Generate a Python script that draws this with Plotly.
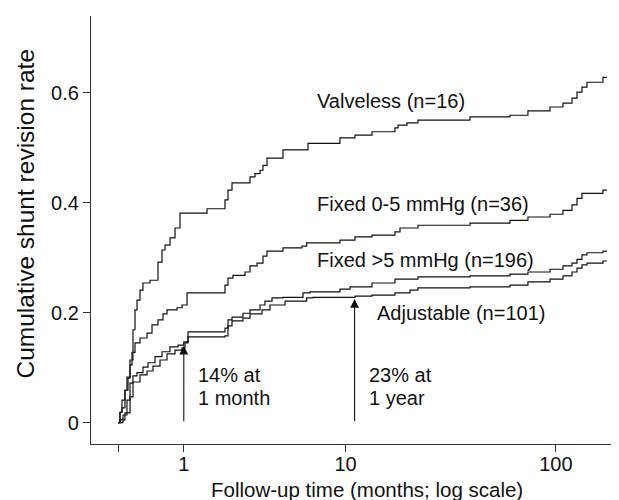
import numpy as np
import plotly.graph_objects as go

# ---- data (months of follow-up, cumulative revision rate) ----
months_valveless = [0, 0.021, 0.043, 0.076, 0.099, 0.135, 0.171, 0.196, 0.222, 0.261, 0.301, 0.401,
                    0.524, 0.59, 0.641, 0.73, 0.824, 0.922, 1.555, 2.088, 2.187, 2.325, 3.019, 3.236,
                    3.466, 3.609, 3.807, 4.691, 6.406, 9.37, 11.15, 13.54, 17.52, 18.12, 20.02, 22.6,
                    39.83, 61.23, 74.2, 93.9, 107.8, 118.6, 125.1, 131.9, 139.1, 164.8, 172]
rate_valveless = [0, 0.019, 0.041, 0.059, 0.083, 0.114, 0.169, 0.205, 0.223, 0.241, 0.254, 0.259,
                  0.292, 0.314, 0.323, 0.336, 0.354, 0.381, 0.389, 0.405, 0.423, 0.436, 0.447, 0.453,
                  0.459, 0.468, 0.481, 0.496, 0.508, 0.518, 0.523, 0.529, 0.536, 0.541, 0.545, 0.55,
                  0.556, 0.559, 0.567, 0.574, 0.581, 0.59, 0.601, 0.61, 0.619, 0.628, 0.628]

months_fixed05 = [0, 0.021, 0.043, 0.076, 0.111, 0.135, 0.159, 0.196, 0.261, 0.358, 0.431, 0.524,
                  0.607, 0.676, 0.862, 0.963, 1.07, 2.088, 2.187, 2.358, 2.813, 3.019, 3.327, 3.609,
                  3.807, 4.691, 5.952, 6.3, 9.37, 11.15, 13.54, 17.52, 18.53, 22.6, 39.83, 61.23,
                  74.2, 93.9, 107.8, 118.6, 125.1, 131.9, 164.8, 172]
rate_fixed05 = [0, 0.019, 0.027, 0.059, 0.081, 0.105, 0.128, 0.145, 0.154, 0.163, 0.178, 0.187,
                0.198, 0.205, 0.209, 0.214, 0.236, 0.25, 0.263, 0.268, 0.274, 0.285, 0.29, 0.303,
                0.312, 0.318, 0.321, 0.327, 0.332, 0.338, 0.341, 0.347, 0.354, 0.359, 0.363, 0.368,
                0.374, 0.379, 0.386, 0.396, 0.408, 0.417, 0.423, 0.423]

months_fixed5 = [0, 0.054, 0.099, 0.135, 0.171, 0.222, 0.301, 0.372, 0.477, 0.59, 0.73, 0.882,
                 1.0, 1.091, 2.088, 2.187, 2.325, 2.733, 3.019, 3.466, 3.707, 4.07, 4.691, 6.025,
                 6.563, 9.37, 10.53, 13.54, 17.52, 22.6, 39.83, 61.23, 74.2, 93.9, 107.8, 118.6,
                 125.1, 131.9, 139.1, 164.8, 172]
rate_fixed5 = [0, 0.014, 0.041, 0.072, 0.085, 0.091, 0.101, 0.109, 0.12, 0.129, 0.138, 0.141,
               0.147, 0.165, 0.172, 0.187, 0.192, 0.199, 0.205, 0.214, 0.221, 0.227, 0.228, 0.236,
               0.238, 0.243, 0.247, 0.254, 0.261, 0.265, 0.267, 0.27, 0.274, 0.279, 0.285, 0.29,
               0.297, 0.305, 0.309, 0.312, 0.312]

months_adjustable = [0, 0.021, 0.076, 0.135, 0.171, 0.261, 0.358, 0.446, 0.557, 0.676, 0.824, 0.963,
                     1.026, 1.091, 2.088, 2.187, 2.325, 2.733, 3.019, 3.56, 3.962, 4.812, 6.3, 6.8,
                     11.15, 13.54, 17.52, 20.7, 22.6, 39.83, 61.23, 74.2, 93.9, 107.8, 118.6, 125.1,
                     131.9, 139.1, 164.8, 172]
rate_adjustable = [0, 0.005, 0.018, 0.047, 0.074, 0.087, 0.094, 0.103, 0.114, 0.125, 0.132, 0.136,
                   0.145, 0.156, 0.158, 0.176, 0.185, 0.19, 0.198, 0.205, 0.214, 0.221, 0.227, 0.228,
                   0.23, 0.232, 0.236, 0.241, 0.245, 0.247, 0.25, 0.256, 0.261, 0.267, 0.274, 0.281,
                   0.287, 0.29, 0.294, 0.294]

series_labels = ["Valveless (n=16)", "Fixed 0-5 mmHg (n=36)", "Fixed >5 mmHg (n=196)", "Adjustable (n=101)"]

x_tick_months = [0, 1, 10, 100]
x_tick_text = ["", "1", "10", "100"]
y_tick_vals = [0, 0.2, 0.4, 0.6]
y_tick_text = ["0", "0.2", "0.4", "0.6"]

arrow_months = [1, 11.1]
arrow_rates = [0.14, 0.225]
arrow_text = [["14% at", "1 month"], ["23% at", "1 year"]]

FONT = "Liberation Sans, Arial, Helvetica, sans-serif"
INK = "#111111"

fig = go.Figure()
for m, r in [(months_valveless, rate_valveless), (months_fixed05, rate_fixed05),
             (months_fixed5, rate_fixed5), (months_adjustable, rate_adjustable)]:
    fig.add_trace(go.Scatter(x=np.array(m) + 1, y=r, mode="lines", line_shape="hv",
                             line=dict(color=INK, width=1.2), hoverinfo="skip"))

# the page body has an 8px default margin; size the figure to fill the rest
OFF = 8
W, H = 619 - OFF, 500 - OFF
L, R, T, B = 91 - OFF, 0, 16 - OFF, 500 - 444
pw, ph = W - L - R, H - T - B

def px(x):  # page pixel -> paper x
    return (x - OFF - L) / pw

def py(y):  # page pixel -> paper y
    return (H - B - (y - OFF)) / ph

ann = []
label_pos = [(315, 101), (315, 204), (315, 260), (375, 313)]
for lab, (lx, ly) in zip(series_labels, label_pos):
    ann.append(dict(text=lab, x=px(lx), y=py(ly), xref="paper", yref="paper",
                    xanchor="left", yanchor="middle", showarrow=False,
                    font=dict(size=20, color=INK, family=FONT)))

text_left = [196, 367]
for am, ar, txt, tl in zip(arrow_months, arrow_rates, arrow_text, text_left):
    xa = float(np.log10(am + 1))
    ann.append(dict(x=xa, y=ar, ax=xa, ay=0, xref="x", yref="y", axref="x", ayref="y",
                    text="", showarrow=True, arrowhead=2, arrowsize=1.6, arrowwidth=1.1,
                    arrowcolor=INK, standoff=0, startstandoff=0))
    for k, line in enumerate(txt):
        ann.append(dict(text=line, x=px(tl), y=py(375 + 23 * k), xref="paper", yref="paper",
                        xanchor="left", yanchor="middle", showarrow=False,
                        font=dict(size=20, color=INK, family=FONT)))

ann.append(dict(text="Cumulative shunt revision rate", x=px(25), y=py(213.5), xref="paper",
                yref="paper", xanchor="center", yanchor="middle", textangle=-90, showarrow=False,
                font=dict(size=24.5, color=INK, family=FONT)))
ann.append(dict(text="Follow-up time (months; log scale)", x=px(366.5), y=py(489), xref="paper",
                yref="paper", xanchor="center", yanchor="middle", showarrow=False,
                font=dict(size=20.5, color=INK, family=FONT)))

fig.update_layout(
    width=W, height=H, margin=dict(l=L, r=R, t=T, b=B, pad=0),
    plot_bgcolor="white", paper_bgcolor="white", showlegend=False,
    font=dict(family=FONT, color=INK, size=20),
    annotations=ann,
    xaxis=dict(type="log", range=[-0.1236, 2.293],
               tickvals=[v + 1 for v in x_tick_months], ticktext=x_tick_text,
               ticks="outside", ticklen=7, tickwidth=1.1, tickcolor="#333",
               ticklabelstandoff=-5,
               showline=True, linecolor="#333", linewidth=1.2, showgrid=False, zeroline=False,
               tickfont=dict(size=20, family=FONT, color=INK)),
    yaxis=dict(range=[-0.0387, 0.7395], tickvals=y_tick_vals, ticktext=y_tick_text,
               ticks="outside", ticklen=7, tickwidth=1.1, tickcolor="#333",
               showline=True, linecolor="#333", linewidth=1.2, showgrid=False, zeroline=False,
               tickfont=dict(size=20, family=FONT, color=INK)),
)

fig.write_html("out.html")
